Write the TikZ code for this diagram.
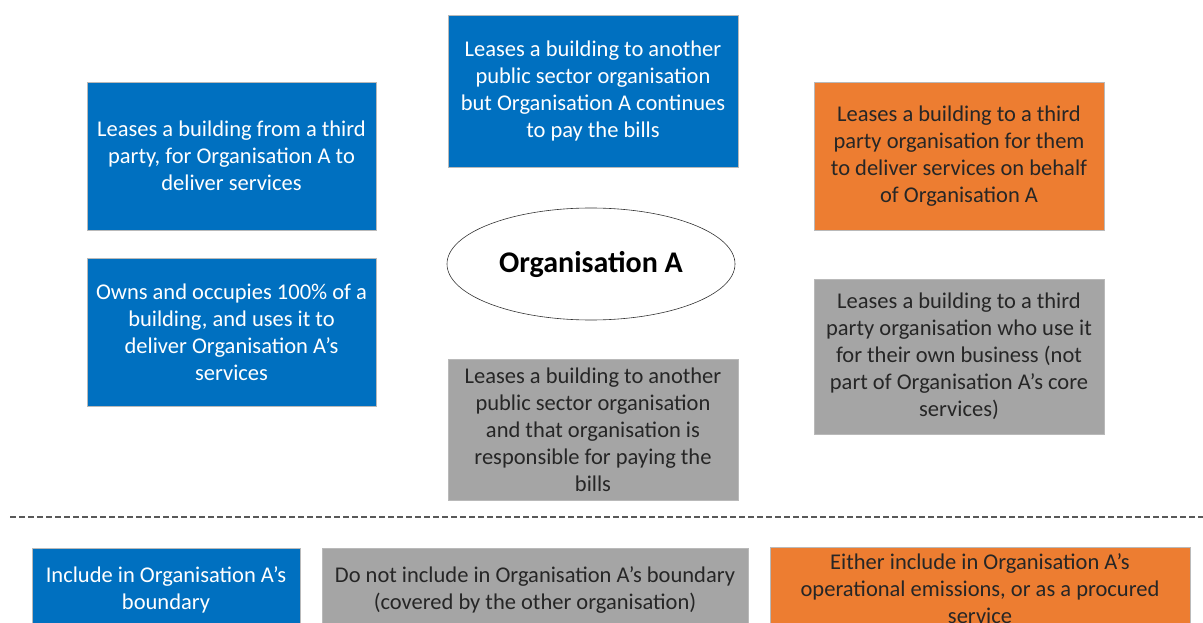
\documentclass[tikz,border=0pt]{standalone}
\usepackage{fontspec}
\setmainfont{Carlito}
\usetikzlibrary{shapes.geometric}
\definecolor{boxblue}{HTML}{0070C0}
\definecolor{boxgrey}{HTML}{A5A5A5}
\definecolor{boxorange}{HTML}{ED7D31}
\definecolor{darktext}{HTML}{262626}
\begin{document}
\begin{tikzpicture}[x=1pt,y=-1pt,
    card/.style={draw=gray!55,line width=0.6pt,inner sep=0pt,align=center,
      font=\fontsize{22.5}{27}\selectfont},
    bluecard/.style={card,fill=boxblue,text=white},
    greycard/.style={card,fill=boxgrey,text=darktext},
    orangecard/.style={card,fill=boxorange,text=darktext}]
        \clip (0,0) rectangle (1203,623);
        % buildings around Organisation A
        \node[ellipse,draw=black!80,line width=0.6pt,inner sep=0pt,minimum width=288pt,minimum height=112pt,
          font=\fontsize{30}{34}\selectfont\bfseries] (orgA) at (591,264) {Organisation A};
        \node[bluecard,minimum width=289pt,minimum height=148pt] (leasefrom) at (231.5,156)
          {Leases a building from a third\\party, for Organisation A to\\deliver services};
        \node[bluecard,minimum width=289pt,minimum height=148pt] (owns) at (231.5,332)
          {Owns and occupies 100\% of a\\building, and uses it to\\deliver Organisation A’s\\services};
        \node[bluecard,minimum width=290pt,minimum height=152pt] (leasepay) at (593,91.5)
          {Leases a building to another\\public sector organisation\\but Organisation A continues\\to pay the bills};
        \node[greycard,minimum width=290pt,minimum height=141pt] (leaseother) at (593,429.5)
          {Leases a building to another\\public sector organisation\\and that organisation is\\responsible for paying the\\bills};
        \node[orangecard,minimum width=290pt,minimum height=148pt] (leasebehalf) at (959,156.5)
          {Leases a building to a third\\party organisation for them\\to deliver services on behalf\\of Organisation A};
        \node[greycard,minimum width=290pt,minimum height=155pt] (leaseown) at (959,356.5)
          {Leases a building to a third\\party organisation who use it\\for their own business (not\\part of Organisation A’s core\\services)};
        % key
        \coordinate (lineL) at (10,517);
        \coordinate (lineR) at (1203,517);
        \draw[black!65,line width=1.4pt,dash pattern=on 6pt off 3pt] (lineL) -- (lineR);
        \node[bluecard,minimum width=268pt,minimum height=83pt] (keyblue) at (166,589.5)
          {Include in Organisation A’s\\boundary};
        \node[greycard,minimum width=426pt,minimum height=83pt] (keygrey) at (535,589.5)
          {Do not include in Organisation A’s boundary\\(covered by the other organisation)};
        \node[orangecard,minimum width=420pt,minimum height=83pt] (keyorange) at (980,589)
          {Either include in Organisation A’s\\operational emissions, or as a procured\\service};
\end{tikzpicture}
\end{document}
